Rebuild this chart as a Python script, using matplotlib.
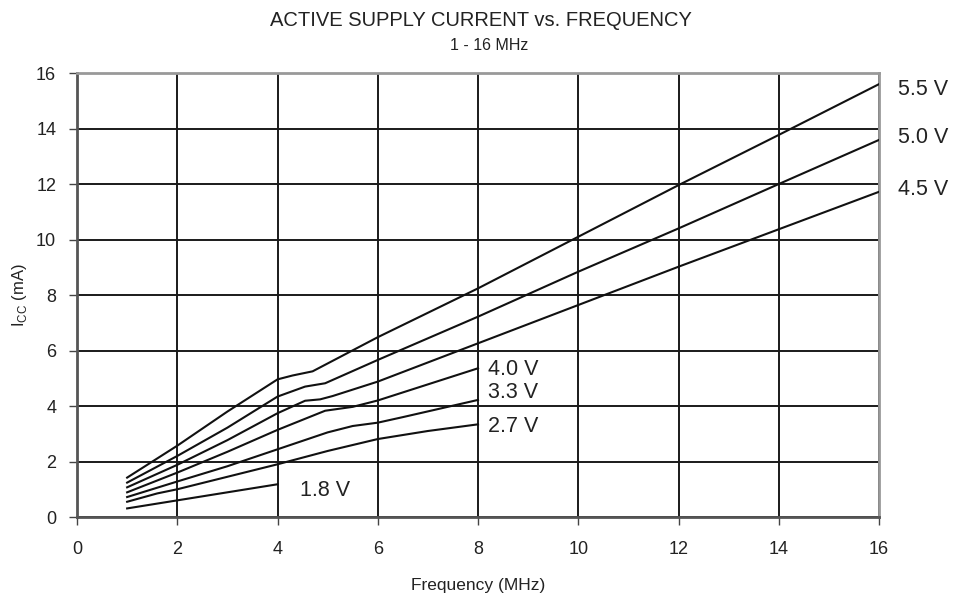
import matplotlib
matplotlib.use("Agg")
import matplotlib.pyplot as plt

plt.rcParams['font.family'] = ['Liberation Sans', 'DejaVu Sans']
plt.rcParams['mathtext.fontset'] = 'custom'
plt.rcParams['mathtext.rm'] = 'Liberation Sans'

# Data (frequency in MHz, supply current in mA)
v55_x = [1, 2, 3, 4, 4.3, 4.7, 6, 8, 10, 12, 14, 16]
v55_y = [1.42, 2.57, 3.8, 4.96, 5.1, 5.25, 6.48, 8.24, 10.1, 11.96, 13.77, 15.6]
v50_x = [1, 2, 3, 4, 4.55, 4.95, 6, 8, 10, 12, 14, 16]
v50_y = [1.24, 2.2, 3.22, 4.34, 4.7, 4.82, 5.66, 7.22, 8.84, 10.4, 12.0, 13.59]
v45_x = [1, 2, 3, 4, 4.55, 4.85, 5.1, 6, 8, 10, 12, 14, 16]
v45_y = [1.07, 1.88, 2.77, 3.74, 4.19, 4.24, 4.36, 4.88, 6.26, 7.64, 9.02, 10.37, 11.72]
v40_x = [1, 2, 3, 4, 4.95, 5.5, 6, 8]
v40_y = [0.89, 1.6, 2.35, 3.14, 3.83, 3.97, 4.2, 5.36]
v33_x = [1, 2, 3, 4, 5, 5.5, 6, 6.5, 8]
v33_y = [0.72, 1.28, 1.83, 2.44, 3.05, 3.28, 3.4, 3.6, 4.22]
v27_x = [1, 1.6, 2, 3, 4, 5, 6, 7, 8]
v27_y = [0.55, 0.85, 1.0, 1.45, 1.9, 2.38, 2.81, 3.1, 3.34]
v18_x = [1, 2, 4]
v18_y = [0.31, 0.6, 1.18]

labels = ["5.5 V", "5.0 V", "4.5 V", "4.0 V", "3.3 V", "2.7 V", "1.8 V"]
label_pos = [(16.38, 15.4), (16.38, 13.66), (16.38, 11.8),
             (8.2, 5.33), (8.2, 4.47), (8.2, 3.28), (4.45, 0.97)]
xticks = [0, 2, 4, 6, 8, 10, 12, 14, 16]
yticks = [0, 2, 4, 6, 8, 10, 12, 14, 16]

fig = plt.figure(figsize=(9.71, 6.0), dpi=100)
ax = fig.add_axes([0.0793, 0.1383, 0.9053 - 0.0793, 0.8783 - 0.1383])

for xs, ys in [(v55_x, v55_y), (v50_x, v50_y), (v45_x, v45_y), (v40_x, v40_y),
               (v33_x, v33_y), (v27_x, v27_y), (v18_x, v18_y)]:
    ax.plot(xs, ys, color='#111111', lw=1.5, solid_joinstyle='round', zorder=3)

ax.set_xlim(0, 16)
ax.set_ylim(0, 16)
ax.set_xticks(xticks)
ax.set_yticks(yticks)
ax.set_xticklabels([str(t) for t in xticks], fontsize=13)
ax.set_yticklabels([str(t) for t in yticks], fontsize=13)
ax.grid(True, color='#1a1a1a', lw=1.4, zorder=1)
ax.set_axisbelow(True)
ax.tick_params(axis='both', direction='out', length=6, width=1.0, color='#444444',
               colors='#222222', pad=9)
ax.tick_params(axis='x', pad=11)

for side in ['top', 'right']:
    ax.spines[side].set_color('#999999')
    ax.spines[side].set_linewidth(2.0)
for side in ['bottom', 'left']:
    ax.spines[side].set_color('#555555')
    ax.spines[side].set_linewidth(2.0)

for lab, (lx, ly) in zip(labels, label_pos):
    ax.text(lx, ly, lab, fontsize=15.5, ha='left', va='center', color='#222222', clip_on=False)

ax.set_xlabel("Frequency (MHz)", fontsize=12.5, labelpad=15, color='#222222')
ax.set_ylabel(r"I$_{\mathregular{CC}}$ (mA)", fontsize=12, labelpad=5, color='#222222')

fig.text(0.495, 0.966, "ACTIVE SUPPLY CURRENT vs. FREQUENCY", fontsize=14.5,
         ha='center', va='center', color='#222222')
fig.text(0.504, 0.925, "1 - 16 MHz", fontsize=11.5, ha='center', va='center', color='#222222')

fig.savefig("out.png", dpi=100)
